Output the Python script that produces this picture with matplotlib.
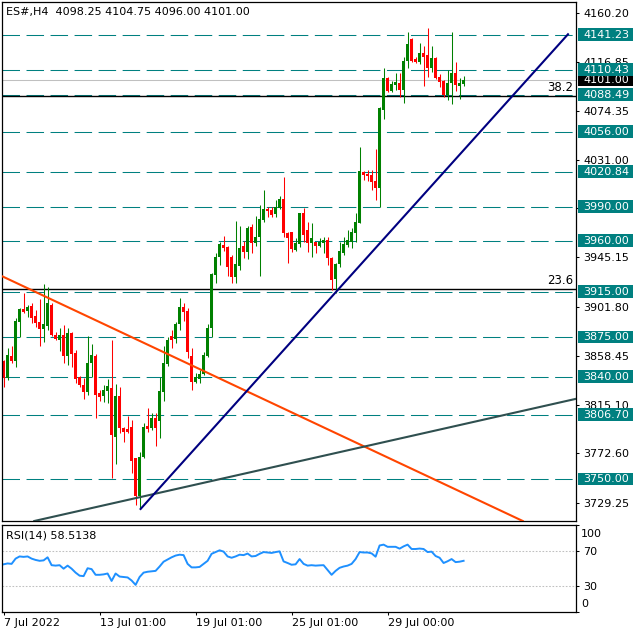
import matplotlib
matplotlib.use('Agg')
import numpy as np
import matplotlib.pyplot as plt
import matplotlib.transforms as mtransforms
from matplotlib.patches import Rectangle

plt.rcParams['font.family'] = ['DejaVu Sans']
plt.rcParams['font.size'] = 8
plt.rcParams['lines.scale_dashes'] = False

# ES#, H4 bars
opens = [3854.0, 3839.0, 3858.4, 3854.0, 3888.4, 3899.8, 3898.0, 3902.4, 3893.6, 3888.4,
         3882.2, 3884.8, 3903.0, 3876.9, 3872.5, 3876.9, 3858.4, 3878.7, 3861.1, 3839.9,
         3832.9, 3826.7, 3852.2, 3858.4, 3825.8, 3823.2, 3827.6, 3830.2, 3787.1, 3823.2,
         3795.0, 3794.1, 3795.9, 3768.6, 3735.1, 3769.5, 3796.8, 3795.0, 3803.8, 3801.2,
         3826.7, 3851.4, 3876.0, 3873.4, 3886.6, 3901.6, 3898.0, 3858.4, 3835.5, 3838.2,
         3842.6, 3858.4, 3883.1, 3929.7, 3945.6, 3956.2, 3954.4, 3945.6, 3928.0, 3937.7,
         3955.3, 3950.0, 3972.0, 3957.9, 3963.2, 3978.2, 3987.9, 3987.0, 3983.5, 3988.8,
         3996.7, 3966.7, 3967.6, 3951.8, 3957.0, 3984.3, 3969.4, 3957.9, 3958.8, 3955.3,
         3957.9, 3960.6, 3944.7, 3926.2, 3939.4, 3949.1, 3956.2, 3958.8, 3966.7, 3975.5,
         4020.4, 4018.7, 4017.8, 4012.5, 4006.3, 4075.0, 4103.2, 4091.8, 4097.0, 4098.8,
         4092.6, 4118.2, 4137.6, 4119.9, 4117.3, 4125.2, 4123.5, 4112.0, 4120.8, 4104.1,
         4100.6, 4088.2, 4098.8, 4107.6, 4096.2, 4098.25]
highs = [3854.9, 3865.5, 3867.2, 3891.9, 3900.7, 3913.9, 3903.3, 3905.1, 3898.9, 3908.6,
         3921.8, 3919.2, 3905.0, 3879.5, 3883.1, 3885.7, 3883.1, 3879.5, 3863.7, 3840.5,
         3839.0, 3876.0, 3869.0, 3860.2, 3828.5, 3832.9, 3838.2, 3872.5, 3833.7, 3831.1,
         3795.9, 3805.6, 3802.1, 3768.6, 3773.9, 3799.4, 3812.6, 3808.2, 3808.2, 3839.9,
         3867.2, 3875.1, 3881.3, 3888.4, 3909.5, 3905.1, 3900.7, 3865.5, 3843.4, 3846.1,
         3861.9, 3886.6, 3931.5, 3949.1, 3958.8, 3964.1, 3955.3, 3947.4, 3977.3, 3972.9,
         3959.7, 3972.9, 3974.6, 3981.7, 3991.4, 4004.6, 3989.6, 3989.6, 3995.8, 3999.3,
         4016.0, 3967.6, 3967.6, 3962.3, 3984.3, 3988.8, 3976.4, 3975.5, 3958.8, 3962.3,
         3963.2, 3963.2, 3945.6, 3940.3, 3958.8, 3963.2, 3969.4, 3971.1, 3984.3, 4042.5,
         4021.3, 4022.2, 4022.2, 4040.7, 4077.7, 4112.0, 4104.1, 4100.6, 4107.6, 4107.6,
         4121.7, 4143.7, 4138.4, 4121.7, 4134.0, 4131.4, 4147.2, 4131.4, 4121.7, 4106.7,
         4101.4, 4110.3, 4143.7, 4117.3, 4103.2, 4104.75]
lows = [3831.1, 3837.0, 3852.2, 3848.7, 3875.1, 3896.3, 3892.8, 3887.5, 3883.9, 3867.2,
        3870.7, 3881.3, 3876.0, 3872.5, 3862.8, 3852.2, 3850.5, 3848.7, 3834.6, 3831.1,
        3820.6, 3824.1, 3839.9, 3803.8, 3818.8, 3817.9, 3817.0, 3751.0, 3763.3, 3790.6,
        3782.7, 3790.6, 3755.4, 3727.2, 3723.7, 3768.6, 3791.5, 3793.2, 3779.2, 3786.2,
        3818.8, 3849.6, 3865.5, 3869.9, 3881.3, 3889.2, 3856.6, 3828.5, 3834.6, 3834.6,
        3841.7, 3857.5, 3875.1, 3922.7, 3938.5, 3950.9, 3928.9, 3922.7, 3922.7, 3934.1,
        3944.7, 3943.8, 3949.1, 3955.0, 3928.9, 3976.4, 3980.8, 3980.8, 3980.8, 3987.9,
        3963.2, 3940.3, 3950.0, 3950.9, 3954.4, 3958.8, 3950.0, 3945.6, 3949.1, 3954.4,
        3949.1, 3938.5, 3916.5, 3913.9, 3936.8, 3947.4, 3954.4, 3953.5, 3958.8, 3975.5,
        4013.4, 4012.5, 4004.6, 3995.8, 3989.6, 4067.1, 4090.9, 4090.9, 4092.6, 4086.5,
        4081.2, 4112.0, 4117.3, 4116.4, 4115.5, 4096.2, 4104.1, 4108.5, 4102.3, 4095.3,
        4086.5, 4083.8, 4080.3, 4091.8, 4084.7, 4096.00]
closes = [3839.0, 3859.3, 3854.0, 3889.2, 3899.8, 3897.2, 3901.6, 3891.9, 3887.5, 3882.2,
          3886.6, 3905.1, 3877.0, 3873.4, 3876.9, 3858.4, 3878.7, 3860.2, 3838.2, 3832.9,
          3826.7, 3852.2, 3859.3, 3824.1, 3822.3, 3828.5, 3832.0, 3788.8, 3823.2, 3795.0,
          3791.5, 3791.5, 3765.9, 3735.1, 3769.5, 3795.9, 3794.1, 3803.8, 3795.0, 3827.6,
          3852.2, 3872.5, 3872.5, 3886.6, 3901.6, 3897.2, 3861.9, 3835.5, 3839.9, 3842.6,
          3859.3, 3883.1, 3930.6, 3945.6, 3957.0, 3953.5, 3936.8, 3928.0, 3939.4, 3953.5,
          3950.0, 3971.1, 3957.9, 3963.2, 3979.0, 3987.9, 3986.1, 3982.6, 3989.6, 3996.7,
          3966.7, 3962.3, 3952.6, 3957.9, 3984.3, 3964.9, 3957.9, 3962.3, 3955.3, 3958.8,
          3960.6, 3944.7, 3925.3, 3939.4, 3950.9, 3957.0, 3960.6, 3967.6, 3976.4, 4021.3,
          4017.8, 4016.9, 4011.6, 4006.3, 4076.8, 4103.2, 4091.8, 4097.9, 4099.7, 4092.6,
          4118.2, 4133.2, 4118.2, 4117.3, 4125.2, 4121.7, 4112.0, 4120.8, 4103.2, 4099.7,
          4088.2, 4098.8, 4107.6, 4097.0, 4098.8, 4101.00]

rsi = [54.5, 55.5, 55.0, 61.0, 63.5, 63.0, 63.5, 61.0, 59.5, 58.5,
       59.0, 62.5, 53.5, 53.0, 53.5, 49.5, 53.0, 49.5, 45.0, 41.5,
       41.0, 50.0, 49.0, 42.5, 42.5, 43.0, 44.0, 35.5, 44.0, 40.5,
       40.0, 39.5, 36.0, 31.0, 40.0, 45.0, 46.0, 46.5, 47.0, 52.0,
       57.5, 60.0, 62.5, 64.5, 65.5, 65.0, 55.0, 51.0, 51.0, 51.5,
       55.0, 58.5, 66.5, 68.5, 70.5, 69.0, 63.5, 62.0, 63.5, 65.5,
       65.0, 66.8, 63.5, 64.0, 66.5, 68.5, 68.0, 67.5, 68.5, 69.3,
       57.8, 56.0, 54.0, 54.5, 60.5, 55.0, 53.0, 53.5, 53.0, 53.3,
       53.5, 48.0, 42.5, 47.0, 50.5, 52.0, 53.0, 55.0, 60.5, 68.5,
       68.0, 68.0, 67.0, 63.2, 76.0, 77.0, 74.5, 74.5, 74.5, 72.4,
       75.0, 77.0, 72.0, 72.0, 72.5, 72.0, 68.5, 69.0, 64.0, 62.0,
       56.0, 58.0, 60.5, 57.0, 57.5, 58.51]

levels = [4141.23, 4110.43, 4088.49, 4056.00, 4020.84, 3990.00,
          3960.00, 3915.00, 3875.00, 3840.00, 3806.70, 3750.00]
fib_names = ['23.6', '38.2']
fib_prices = [3917.4, 4087.5]
last_price = 4101.00
price_ticks = [4160.20, 4116.85, 4074.35, 4031.00, 3988.50, 3945.15,
               3901.80, 3858.45, 3815.10, 3772.60, 3729.25]
hidden_ticks = [3988.50]   # label sits under the 3990.00 tag
date_ticks = [0, 24, 48, 72, 96]
date_labels = ['7 Jul 2022', '13 Jul 01:00', '19 Jul 01:00', '25 Jul 01:00', '29 Jul 00:00']

# trend lines as (bar, price) anchors
orange_pts = [(0, 3928.0), (129.25, 3714.0)]
navy_pts = [(34.25, 3723.7), (141.1, 4141.7)]
slate_pts = [(8.8, 3714.0), (143.25, 3820.8)]

W, H = 640, 636
fig = plt.figure(figsize=(W / 100, H / 100), dpi=100)
ax = fig.add_axes([2 / W, (H - 521) / H, 574 / W, 519 / H])
ax2 = fig.add_axes([2 / W, (H - 612) / H, 574 / W, 87.5 / H])

o = np.array(opens); hi = np.array(highs); lo = np.array(lows); c = np.array(closes)
x = np.arange(len(c))
cols = np.where(c >= o, '#008000', '#ff0000')

ax.set_xlim(-0.4, 143.1)
ax.set_ylim(3713.1, 4170.1)
ppx = (4170.1 - 3713.1) / 519

# levels
for lv in levels:
    ax.axhline(lv, color='#008080', lw=0.75, dashes=(12.6, 4.7), zorder=1)
ax.axhline(last_price, color='#c0c0c0', lw=0.75, zorder=1)
tr = mtransforms.blended_transform_factory(ax.transAxes, ax.transData)
for nm, p in zip(fib_names, fib_prices):
    ax.axhline(p, color='black', lw=1.0, zorder=1.2)
    ax.text(0.995, p + 1.5, nm, transform=tr, ha='right', va='bottom', fontsize=8.5)

# candles
ax.vlines(x, lo, hi, colors=cols, lw=0.75, zorder=2)
ax.bar(x, np.maximum(np.abs(c - o), 0.9), bottom=np.minimum(o, c), width=0.74,
       color=cols, linewidth=0, zorder=2.1)

# trend lines
ax.axline(orange_pts[0], orange_pts[1], color='#ff4500', lw=1.5, zorder=3)
ax.axline(slate_pts[0], slate_pts[1], color='#2f4f4f', lw=1.5, zorder=3)
ax.plot([navy_pts[0][0], navy_pts[1][0]], [navy_pts[0][1], navy_pts[1][1]],
        color='#000080', lw=1.5, zorder=3)

# price axis
ax.yaxis.tick_right()
ax.set_yticks(price_ticks)
ax.set_yticklabels(['' if t in hidden_ticks else '%.2f' % t for t in price_ticks])
ax.tick_params(axis='y', direction='out', length=2.5, width=0.75, pad=2.5, labelsize=8)
ax.set_xticks([])
for s in ax.spines.values():
    s.set_linewidth(0.9)

# price tags on the right
ftr = mtransforms.blended_transform_factory(fig.transFigure, ax.transData)
def tag(price, fc, z):
    ax.add_patch(Rectangle((578 / W, price - 6 * ppx), 55 / W, 12.5 * ppx, transform=ftr,
                           facecolor=fc, edgecolor='none', clip_on=False, zorder=z))
    ax.text(583 / W, price, '%.2f' % price, transform=ftr, color='white', ha='left',
            va='center', fontsize=8, clip_on=False, zorder=z + 0.1)
tag(last_price, 'black', 5)
for lv in levels:
    tag(lv, '#008080', 6)

fig.text(6 / W, 1 - 12 / H, 'ES#,H4  4098.25 4104.75 4096.00 4101.00', ha='left', va='center', fontsize=8)

# RSI window
ax2.set_xlim(-0.4, 143.1)
ax2.set_ylim(0, 100)
ax2.axhline(70, color='#c0c0c0', lw=0.75, dashes=(1.2, 1.2))
ax2.axhline(30, color='#c0c0c0', lw=0.75, dashes=(1.2, 1.2))
ax2.plot(x, rsi, color='#1e90ff', lw=1.4)
ax2.text(4 / 574, 0.88, 'RSI(14) 58.5138', transform=ax2.transAxes, ha='left', va='center', fontsize=8)
ax2.yaxis.tick_right()
ax2.set_yticks([0, 30, 70, 100])
ax2.set_yticklabels(['', '30', '70', ''])
rtr = mtransforms.blended_transform_factory(fig.transFigure, ax2.transData)
ax2.text(581 / W, 89.5, '100', transform=rtr, ha='left', va='center', fontsize=8)
ax2.text(581 / W, 9.0, '0', transform=rtr, ha='left', va='center', fontsize=8)
ax2.tick_params(axis='y', direction='out', length=2.5, width=0.75, pad=2.5, labelsize=8)
ax2.set_xticks(date_ticks)
ax2.set_xticklabels(date_labels, ha='left')
ax2.tick_params(axis='x', direction='out', length=2.5, width=0.75, pad=1.5, labelsize=8)
for s in ax2.spines.values():
    s.set_linewidth(0.9)

fig.savefig('out.png', dpi=100, facecolor='white')
